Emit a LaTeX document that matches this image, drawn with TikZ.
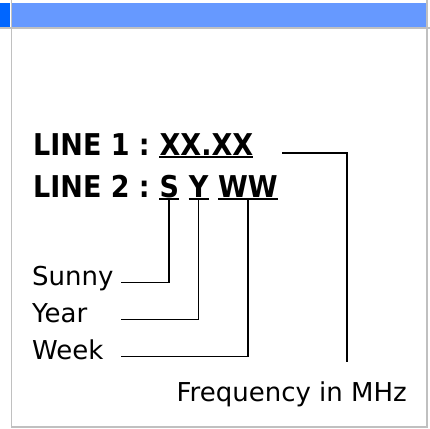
\documentclass[tikz,border=0pt]{standalone}
\usepackage{fontspec}
\setmainfont{DejaVu Sans}
\newfontfamily\codefont{DejaVu Sans Condensed}[BoldFont={DejaVu Sans Condensed Bold}]
\usetikzlibrary{positioning}
\definecolor{barblue}{HTML}{6699FF}
\definecolor{tabblue}{HTML}{0066FF}
\definecolor{framegray}{HTML}{C0C0C0}

\begin{document}
\begin{tikzpicture}[x=1pt, y=-1pt,
    code/.style={font=\codefont\fontsize{30}{33}\selectfont\bfseries, inner sep=0pt, text height=0.75em, text depth=0.17em},
    note/.style={font=\fontsize{26}{30}\selectfont, inner sep=0pt, text height=0.75em, text depth=0.25em},
    lbl/.style={note, anchor=base west, text width=89pt},
    uline/.style={line width=2.4pt},
    wire/.style={line width=1.7pt}]
  \useasboundingbox (0,0) rectangle (430,428);
  % header bar and frame
  \fill[tabblue] (0,3) rectangle (10,27);
  \fill[barblue] (12,3) rectangle (427,27);
  \draw[framegray, line width=1.6pt] (0,28) -- (430,28);
  \draw[framegray, line width=1.6pt] (11.5,0) -- (11.5,427) -- (427,427) -- (427,0);

  \node[code, anchor=base west] (l1) at (33,155) {LINE 1 :};
  \node[code, base right=9.4pt of l1] (xx) {XX.XX};
  \node[code, anchor=base west] (l2) at (33,197) {LINE 2 :};
  \node[code, base right=9.4pt of l2] (s) {S};
  \node[code, base right=9.4pt of s] (yr) {Y};
  \node[code, base right=9.4pt of yr] (ww) {WW};

  \node[lbl] (sunny) at (32,285) {Sunny};
  \node[lbl] (year) at (32,322) {Year};
  \node[lbl] (week) at (32,359) {Week};
  \node[note, anchor=base east] (freq) at (407,401) {Frequency in MHz};
  \coordinate (fq) at (347,362);

  \foreach \n in {xx,s,yr,ww}
    \draw[uline] (\n.south west) -- (\n.south east);

  \draw[wire] (s.south) |- (sunny.east);
  \draw[wire] (yr.south) |- (year.east);
  \draw[wire] (ww.south) |- (week.east);
  \draw[wire] ([shift={(29pt,2pt)}]xx.base east) -| (fq);
\end{tikzpicture}
\end{document}
